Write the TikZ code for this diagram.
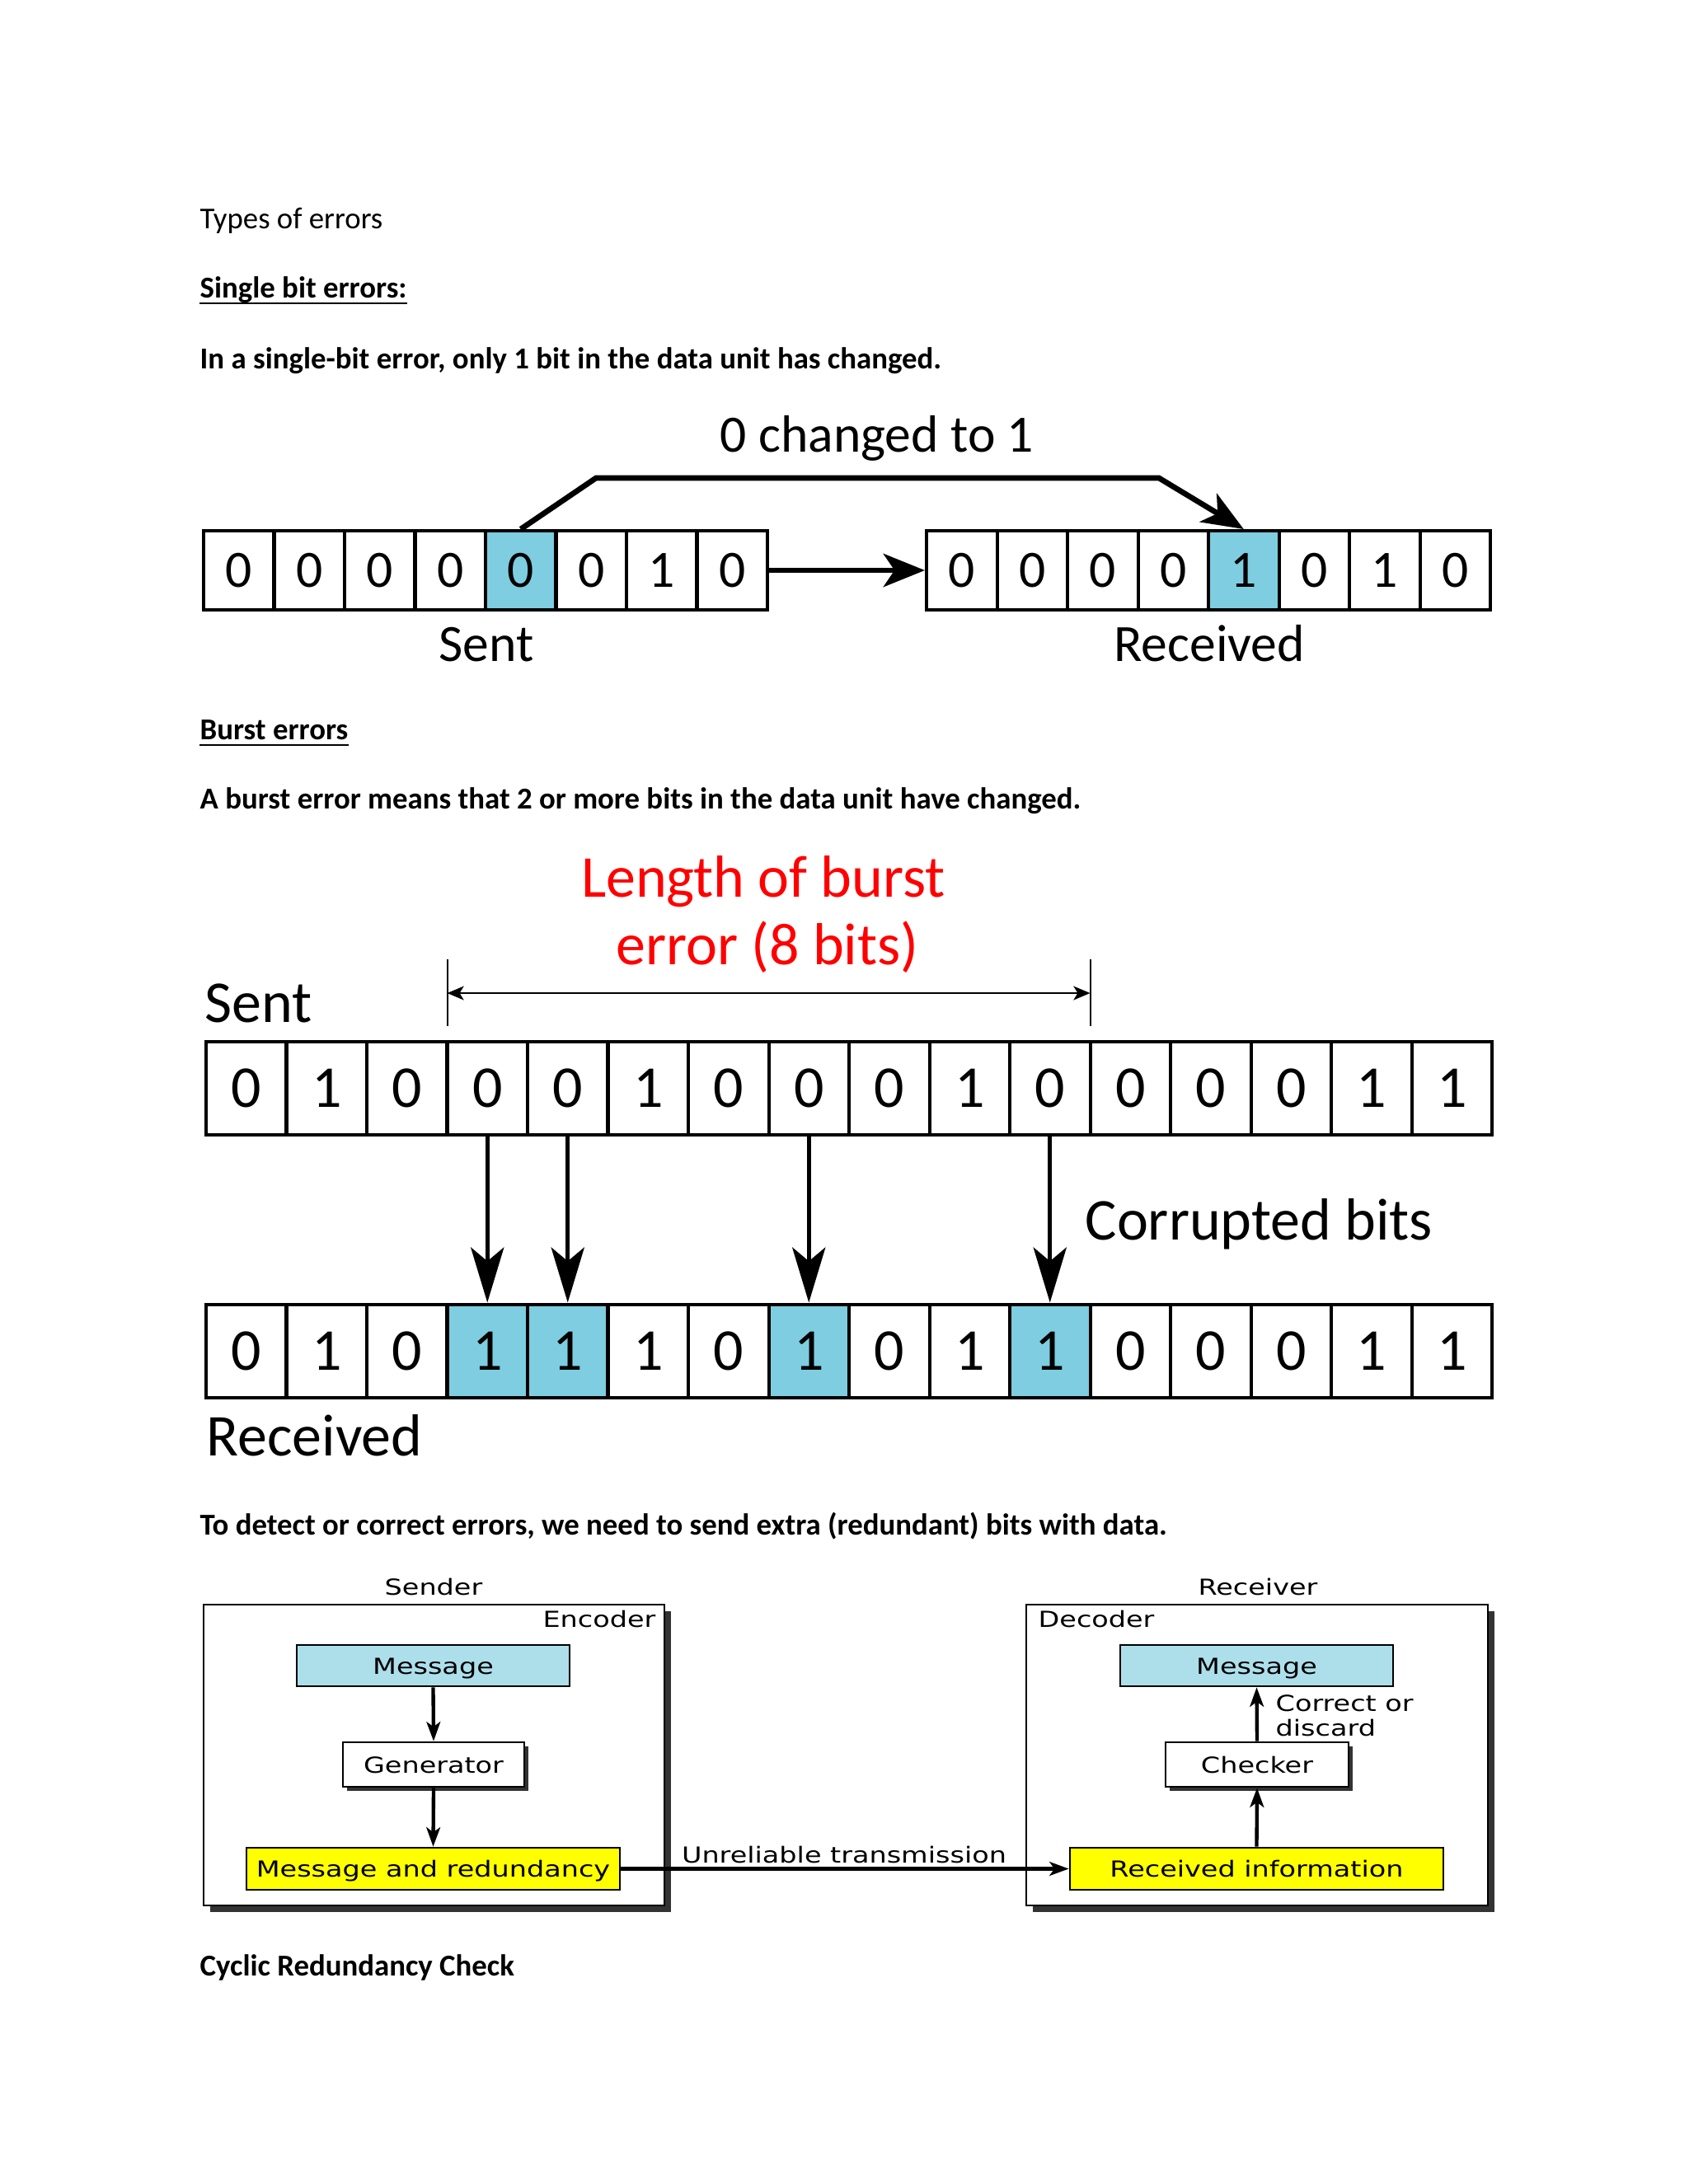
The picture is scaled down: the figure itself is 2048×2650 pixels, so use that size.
\documentclass[tikz,border=0pt]{standalone}
\usepackage{fontspec}
\setmainfont{Carlito}
\newfontfamily\crcfont[FakeStretch=1.25]{DejaVu Sans}
\usetikzlibrary{arrows.meta,shadows}
\definecolor{hl}{HTML}{7ECDE0}
\definecolor{msgblue}{HTML}{ADDFEB}
\definecolor{yel}{HTML}{FFFF00}
\def\pxu{0.29883bp}
\begin{document}
\begin{tikzpicture}[x=0.29883bp,y=-0.29883bp,
  doctext/.style={anchor=base west, inner sep=0, font=\fontsize{11bp}{13bp}\selectfont},
  dochead/.style={doctext, font=\fontsize{11bp}{13bp}\selectfont\bfseries},
  figA/.style={inner sep=0, font=\fontsize{19bp}{22bp}\selectfont},
  figB/.style={inner sep=0, font=\fontsize{21.5bp}{24bp}\selectfont},
  cellA/.style={draw, line width=1.2bp, minimum width=85.5*\pxu, minimum height=96*\pxu, inner sep=0, font=\fontsize{19bp}{22bp}\selectfont},
  cellB/.style={draw, line width=1.2bp, minimum width=97.5*\pxu, minimum height=113*\pxu, inner sep=0, font=\fontsize{21.5bp}{24bp}\selectfont},
  bigarrow/.style={line width=2bp, -{Stealth[length=15bp, width=12bp, inset=4bp]}},
  downarrow/.style={line width=1.5bp, -{Stealth[length=20bp, width=12bp, inset=5bp]}},
  spanarrow/.style={line width=0.8bp, {Stealth[length=6bp, width=5bp, inset=1.5bp]}-{Stealth[length=6bp, width=5bp, inset=1.5bp]}},
  crctext/.style={inner sep=0, font=\crcfont\fontsize{8bp}{9bp}\selectfont},
  crcbox/.style={draw, line width=0.8bp, inner sep=0, text height=6.8bp, text depth=0.8bp, font=\crcfont\fontsize{8bp}{9bp}\selectfont},
  bigshadow/.style={drop shadow={shadow xshift=2.4bp, shadow yshift=-2.4bp, fill=black!80, opacity=1}},
  smallshadow/.style={drop shadow={shadow xshift=1.6bp, shadow yshift=-1.6bp, fill=black!80, opacity=1}},
  crcarrow/.style={line width=1.3bp, -{Stealth[length=7bp, width=5bp, inset=1.8bp]}}
]
\fill[white] (0,0) rectangle (2048,2650);
\useasboundingbox (0,0) rectangle (2048,2650);

% ---------- document text ----------
\node[doctext] (t1) at (242,277) {Types of errors};
\node[dochead] (t2) at (242,361) {Single bit errors:};
\draw[line width=0.6bp] ([yshift=-2bp]t2.base west) -- ([yshift=-2bp]t2.base east);
\node[dochead] (t3) at (242,447) {In a single-bit error, only 1 bit in the data unit has changed.};
\node[dochead] (t4) at (242,897) {Burst errors};
\draw[line width=0.6bp] ([yshift=-2bp]t4.base west) -- ([yshift=-2bp]t4.base east);
\node[dochead] (t5) at (242,981) {A burst error means that 2 or more bits in the data unit have changed.};
\node[dochead] (t6) at (242,1862) {To detect or correct errors, we need to send extra (redundant) bits with data.};
\node[dochead] (t7) at (242,2397) {Cyclic Redundancy Check};

% ---------- figure 1: single bit error ----------
\foreach \b/\f [count=\i] in {0/white,0/white,0/white,0/white,0/hl,0/white,1/white,0/white}
  \node[cellA, fill=\f] (s\i) at ({247+85.5*(\i-0.5)},692) {\b};
\foreach \b/\f [count=\i] in {0/white,0/white,0/white,0/white,1/hl,0/white,1/white,0/white}
  \node[cellA, fill=\f] (r\i) at ({1124+85.5*(\i-0.5)},692) {\b};
\node[figA, anchor=base] (chg) at (1064,548) {0 changed to 1};
\node[figA, anchor=base] (sentA) at (590,802) {Sent};
\node[figA, anchor=base] (recA) at (1467,802) {Received};
\draw[bigarrow] (s8.east) -- (r1.west);
\coordinate (bendA) at (723,580);
\coordinate (bendB) at (1406,580);
\draw[bigarrow] (s5.north) -- (bendA) -- (bendB) -- (r5.north);

% ---------- figure 2: burst error ----------
\foreach \b [count=\i] in {0,1,0,0,0,1,0,0,0,1,0,0,0,0,1,1}
  \node[cellB] (bs\i) at ({250+97.5*(\i-0.5)},1320.5) {\b};
\foreach \b/\f [count=\i] in {0/white,1/white,0/white,1/hl,1/hl,1/white,0/white,1/hl,0/white,1/white,1/hl,0/white,0/white,0/white,1/white,1/white}
  \node[cellB, fill=\f] (br\i) at ({250+97.5*(\i-0.5)},1639) {\b};
\foreach \k in {4,5,8,11}
  \draw[downarrow] (bs\k.south) -- (br\k.north);
\coordinate (tickLa) at (542.5,1164);
\coordinate (tickLb) at (542.5,1245);
\coordinate (tickRa) at (1322.5,1164);
\coordinate (tickRb) at (1322.5,1245);
\coordinate (spanL) at (542.5,1205);
\coordinate (spanR) at (1322.5,1205);
\draw[line width=0.6bp] (tickLa) -- (tickLb);
\draw[line width=0.6bp] (tickRa) -- (tickRb);
\draw[spanarrow] (spanL) -- (spanR);
\node[figB, anchor=base, text=red] (len1) at (926,1088) {Length of burst};
\node[figB, anchor=base, text=red] (len2) at (931,1170) {error (8 bits)};
\node[figB, anchor=base west] (sentB) at (248,1240) {Sent};
\node[figB, anchor=base west] (corr) at (1316,1504) {Corrupted bits};
\node[figB, anchor=base west] (recB) at (250,1766) {Received};

% ---------- figure 3: CRC ----------
\node[draw, line width=0.8bp, fill=white, bigshadow, minimum width=559*\pxu, minimum height=365*\pxu] (enc) at (526.5,2129.5) {};
\node[draw, line width=0.8bp, fill=white, bigshadow, minimum width=560*\pxu, minimum height=365*\pxu] (dec) at (1525,2129.5) {};
\node[crctext] (sender) at (526,1925) {Sender};
\node[crctext] (receiver) at (1526,1925) {Receiver};
\node[crctext, anchor=east] (encl) at (796,1964) {Encoder};
\node[crctext, anchor=west] (decl) at (1259,1964) {Decoder};
\node[crcbox, fill=msgblue, minimum width=331*\pxu, minimum height=50*\pxu] (msgL) at (525.5,2021) {Message};
\node[crcbox, fill=white, smallshadow, minimum width=220*\pxu, minimum height=54*\pxu] (gen) at (526,2141) {Generator};
\node[crcbox, fill=yel, minimum width=453*\pxu, minimum height=51*\pxu] (mr) at (525.5,2267.5) {Message and redundancy};
\node[crcbox, fill=msgblue, minimum width=331*\pxu, minimum height=50*\pxu] (msgR) at (1524.5,2021) {Message};
\node[crcbox, fill=white, smallshadow, minimum width=222*\pxu, minimum height=54*\pxu] (chk) at (1525,2141) {Checker};
\node[crcbox, fill=yel, minimum width=453*\pxu, minimum height=51*\pxu] (ri) at (1524.5,2267.5) {Received information};
\node[crctext, align=left, anchor=west] (cod) at (1547,2082) {Correct or\\discard};
\node[crctext, anchor=base] (unrel) at (1024,2260) {Unreliable transmission};
\draw[crcarrow] (msgL.south) -- (gen.north);
\draw[crcarrow] (gen.south) -- (mr.north);
\draw[crcarrow] (mr.east) -- (ri.west);
\draw[crcarrow] (ri.north) -- (chk.south);
\draw[crcarrow] (chk.north) -- (msgR.south);
\end{tikzpicture}
\end{document}
